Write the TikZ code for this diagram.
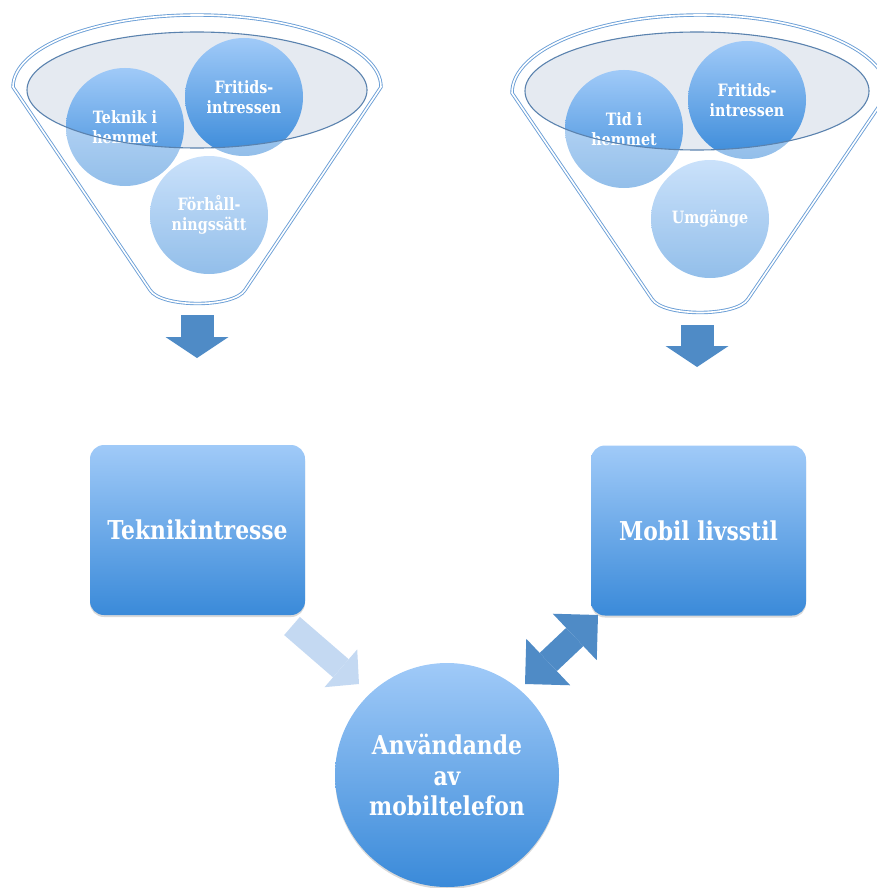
\documentclass[tikz,border=0pt]{standalone}
\usepackage{fontspec}
\setmainfont{DejaVu Serif}
\newfontfamily\slab[FakeStretch=0.84]{DejaVu Serif}
\usepackage{tikz}
\usepackage{xcolor}
\usetikzlibrary{positioning}
\usetikzlibrary{arrows.meta}
\usetikzlibrary{shadows}
\definecolor{lightblue}{HTML}{A0CAF8}
\definecolor{darkblue}{HTML}{3A8AD9}
\definecolor{arrowblue}{HTML}{4F8BC6}
\definecolor{fadeblue}{HTML}{C4D9F2}
\definecolor{rimblue}{HTML}{6A9ED6}
\definecolor{openblue}{HTML}{5A82AE}
\definecolor{opengrey}{HTML}{E5EAF1}
\tikzstyle{factor}=[circle, minimum size=118pt, inner sep=0pt, top color=lightblue, bottom color=darkblue, text=white, align=center, font=\slab\fontsize{17}{20.5}\selectfont\bfseries]
\tikzstyle{topic}=[rectangle, rounded corners=14pt, minimum width=215pt, minimum height=170pt, top color=lightblue, bottom color=darkblue, text=white, align=center, font=\slab\fontsize{26}{30.5}\selectfont\bfseries, drop shadow={opacity=0.3, shadow xshift=0pt, shadow yshift=-2pt}]
\tikzstyle{hub}=[topic, circle, sharp corners, minimum size=224pt]
\tikzstyle{veil}=[fill=white, fill opacity=0.45, even odd rule]
\tikzstyle{rim}=[draw=rimblue, line width=0.9pt, double=white, double distance=1.6pt]
\tikzstyle{opening}=[draw=openblue, line width=1.1pt]
\tikzstyle{link}=[draw=arrowblue, line width=33pt, -{Triangle[length=21pt, width=63pt, line width=0pt]}]

\begin{document}
\begin{tikzpicture}[x=1pt, y=-1pt]
    \useasboundingbox (0,0) rectangle (877,888);

    % left funnel
    \fill[opengrey] (197,90) ellipse [x radius=170pt, y radius=58pt];
    \node[factor] (teknik)  at (125,127) {Teknik i\\hemmet};
    \node[factor] (fritidL) at (244,97)  {Fritids-\\intressen};
    \node[factor] (forhall) at (209,215) {Förhåll-\\ningssätt};
    \fill[veil] (13,87) -- (150,290) .. controls (161,308) and (234,308) .. (245,290) -- (381,87)
        arc[start angle=0, end angle=180, x radius=184pt, y radius=72pt] -- cycle
        (197,90) ellipse [x radius=170pt, y radius=58pt];
    \draw[rim] (13,87) -- (150,290) .. controls (161,308) and (234,308) .. (245,290) -- (381,87)
        arc[start angle=0, end angle=180, x radius=184pt, y radius=72pt] -- cycle;
    \draw[opening] (197,90) ellipse [x radius=170pt, y radius=58pt];

    % right funnel
    \fill[opengrey] (697,91) ellipse [x radius=172pt, y radius=59pt];
    \node[factor] (tid)     at (624,129) {Tid i\\hemmet};
    \node[factor] (fritidR) at (747,100) {Fritids-\\intressen};
    \node[factor] (umgange) at (710,219) {Umgänge};
    \fill[veil] (512,93) -- (652,299) .. controls (663,317) and (737,317) .. (748,299) -- (888,93)
        arc[start angle=0, end angle=180, x radius=188pt, y radius=78pt] -- cycle
        (697,91) ellipse [x radius=172pt, y radius=59pt];
    \draw[rim] (512,93) -- (652,299) .. controls (663,317) and (737,317) .. (748,299) -- (888,93)
        arc[start angle=0, end angle=180, x radius=188pt, y radius=78pt] -- cycle;
    \draw[opening] (697,91) ellipse [x radius=172pt, y radius=59pt];

    % outcome boxes and the centre
    \node[topic] (teknikint) at (197.5,530) {Teknikintresse};
    \node[topic] (mobil)     at (698.5,530.5) {Mobil livsstil};
    \node[hub]   (anvand)    at (447,775) {Användande\\av\\mobiltelefon};

    \coordinate (outL) at (197,315);
    \coordinate (tipL) at (197,358);
    \coordinate (outR) at (697,325);
    \coordinate (tipR) at (697,367);
    \coordinate (fadeS) at (292,626);
    \coordinate (fadeE) at (359,684);
    \coordinate (dblA) at (525,684);
    \coordinate (dblB) at (598,615);

    \draw[link] (outL) -- (tipL);
    \draw[link] (outR) -- (tipR);
    \draw[link, draw=fadeblue, line width=24pt, -{Triangle[length=24pt, width=50pt, line width=0pt]}] (fadeS) -- (fadeE);
    \draw[link, line width=25pt, {Triangle[length=32pt, width=64pt, line width=0pt]}-{Triangle[length=32pt, width=64pt, line width=0pt]}] (dblA) -- (dblB);
\end{tikzpicture}
\end{document}
